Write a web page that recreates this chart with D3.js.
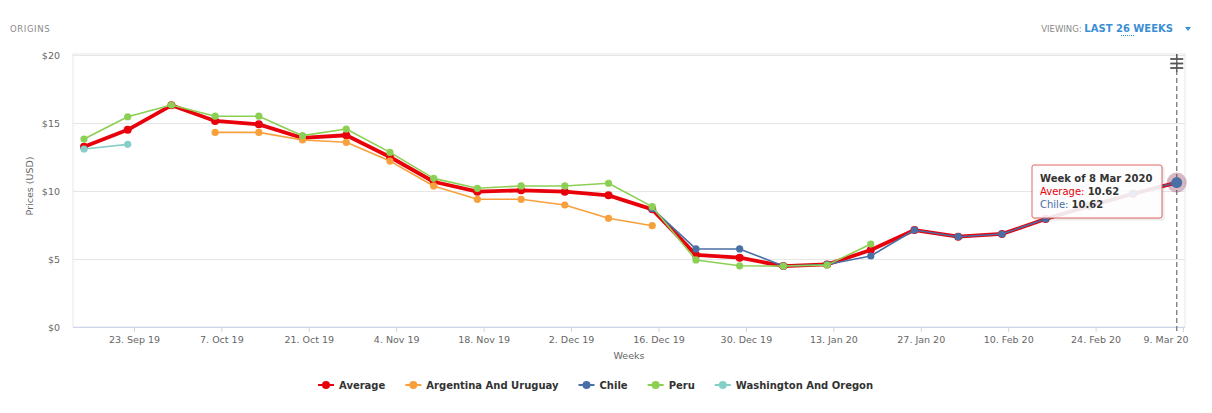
<!DOCTYPE html>
<html>
<head>
<meta charset="utf-8">
<script src="https://cdn.jsdelivr.net/npm/d3@7"></script>
<style>
  body { margin: 0; background: #fff; }
  svg { font-family: "DejaVu Sans", sans-serif; }
</style>
</head>
<body>
<svg id="pricesChart" width="1212" height="413"></svg>
<script>
// weekly prices, one value per week (null = no data that week)
var weeks = ["2019-09-15", "2019-09-22", "2019-09-29", "2019-10-06", "2019-10-13", "2019-10-20",
  "2019-10-27", "2019-11-03", "2019-11-10", "2019-11-17", "2019-11-24", "2019-12-01", "2019-12-08",
  "2019-12-15", "2019-12-22", "2019-12-29", "2020-01-05", "2020-01-12", "2020-01-19", "2020-01-26",
  "2020-02-02", "2020-02-09", "2020-02-16", "2020-02-23", "2020-03-01", "2020-03-08"];

var average = [13.25, 14.5, 16.3, 15.15, 14.9, 13.9, 14.1, 12.5, 10.68, 9.95, 10.05, 9.95, 9.68,
  8.65, 5.3, 5.1, 4.48, 4.6, 5.66, 7.13, 6.64, 6.84, 7.94, 8.9, 9.8, 10.62];
var argentinaAndUruguay = [null, null, null, 14.31, 14.31, 13.75, 13.58, 12.2, 10.37, 9.39, 9.39,
  8.97, 7.99, 7.45, null, null, null, null, null, null, null, null, null, null, null, null];
var chile = [null, null, null, null, null, null, null, null, null, null, null, null, null,
  8.7, 5.74, 5.74, 4.48, 4.6, 5.22, 7.13, 6.64, 6.84, 7.94, 8.9, 9.8, 10.62];
var peru = [13.82, 15.46, 16.32, 15.5, 15.5, 14.07, 14.56, 12.84, 10.93, 10.2, 10.37, 10.37, 10.57,
  8.85, 4.93, 4.5, 4.48, 4.55, 6.1, null, null, null, null, null, null, null];
var washingtonAndOregon = [13.09, 13.43, null, null, null, null, null, null, null, null, null, null,
  null, null, null, null, null, null, null, null, null, null, null, null, null, null];

var seriesNames = ["Average", "Argentina And Uruguay", "Chile", "Peru", "Washington And Oregon"];
var seriesColors = ["#e8000b", "#f7a03c", "#4a6fa5", "#8ccf55", "#86cfc8"];

var yTicks = [0, 5, 10, 15, 20];
var xTicks = ["2019-09-23", "2019-10-07", "2019-10-21", "2019-11-04", "2019-11-18", "2019-12-02",
  "2019-12-16", "2019-12-30", "2020-01-13", "2020-01-27", "2020-02-10", "2020-02-24", "2020-03-09"];
var hoverIndex = 25;

var parseDate = d3.utcParse("%Y-%m-%d");
var dates = weeks.map(parseDate);

var svg = d3.select("#pricesChart"),
  plot = { left: 73, top: 54, right: 1185, bottom: 327 };

var x = d3.scaleUtc()
  .domain([parseDate("2019-09-15"), parseDate("2020-03-09")])
  .range([84, 1183]);
var y = d3.scaleLinear().domain([0, 20]).range([plot.bottom, 55]);

// header
svg.append("text")
  .attr("x", 10).attr("y", 32)
  .attr("font-size", 8.5).attr("fill", "#8a8a8a").attr("letter-spacing", 0.6)
  .text("ORIGINS");

var viewing = svg.append("text")
  .attr("x", 1173).attr("y", 32).attr("text-anchor", "end")
  .attr("font-size", 8.5);
viewing.append("tspan").attr("fill", "#8a8a8a").text("VIEWING: ");
viewing.append("tspan").attr("fill", "#3a8fd4").attr("font-weight", "bold").attr("font-size", 10)
  .text("LAST 26 WEEKS");
svg.append("line")
  .attr("x1", 1121).attr("x2", 1134).attr("y1", 35.5).attr("y2", 35.5)
  .attr("stroke", "#3a8fd4").attr("stroke-dasharray", "1,1");
svg.append("path")
  .attr("d", "M1185,27 L1191,27 L1188,31 Z")
  .attr("fill", "#3a8fd4");

// plot frame + grid
svg.append("rect")
  .attr("x", plot.left).attr("y", plot.top)
  .attr("width", plot.right - plot.left).attr("height", plot.bottom - plot.top)
  .attr("fill", "none").attr("stroke", "#e8e8e8");

var yAxis = svg.append("g")
  .attr("transform", "translate(" + plot.left + ",0)")
  .call(d3.axisLeft(y)
    .tickValues(yTicks)
    .tickFormat(function(d) { return "$" + d; })
    .tickSizeInner(-(plot.right - plot.left))
    .tickSizeOuter(0)
    .tickPadding(13));
yAxis.select(".domain").remove();
yAxis.selectAll(".tick line").attr("stroke", "#e6e6e6");
yAxis.selectAll(".tick text").attr("fill", "#666").attr("font-size", 9.5)
  .attr("font-family", "DejaVu Sans, sans-serif");

svg.append("text")
  .attr("transform", "translate(33,186) rotate(-90)")
  .attr("text-anchor", "middle").attr("font-size", 9.5).attr("fill", "#666")
  .text("Prices (USD)");

var xAxis = svg.append("g")
  .attr("transform", "translate(0," + plot.bottom + ")")
  .call(d3.axisBottom(x)
    .tickValues(xTicks.map(parseDate))
    .tickFormat(d3.utcFormat("%-d. %b %y"))
    .tickSize(5)
    .tickPadding(4));
xAxis.select(".domain").attr("stroke", "#ccd6eb").attr("d", "M" + plot.left + ",0.5H" + plot.right);
xAxis.selectAll(".tick line").attr("stroke", "#ccd6eb");
xAxis.selectAll(".tick text").attr("fill", "#666").attr("font-size", 9.5)
  .attr("font-family", "DejaVu Sans, sans-serif");
// last label is pushed inside the chart like highcharts does
xAxis.select(".tick:last-of-type text").attr("text-anchor", "end").attr("x", 5);

svg.append("text")
  .attr("x", (plot.left + plot.right) / 2).attr("y", 359)
  .attr("text-anchor", "middle").attr("font-size", 9.5).attr("fill", "#666")
  .text("Weeks");

// crosshair on hovered week
svg.append("line")
  .attr("x1", x(dates[hoverIndex])).attr("x2", x(dates[hoverIndex]))
  .attr("y1", plot.top).attr("y2", plot.bottom + 4)
  .attr("stroke", "#777").attr("stroke-width", 1.3).attr("stroke-dasharray", "5,3");
var handle = svg.append("g").attr("transform", "translate(" + x(dates[hoverIndex]) + ",0)");
[59, 63.5, 68].forEach(function(hy) {
  handle.append("line").attr("x1", -6.5).attr("x2", 6.5).attr("y1", hy).attr("y2", hy)
    .attr("stroke", "#555").attr("stroke-width", 1.8);
});
handle.append("line").attr("x1", 0).attr("x2", 0).attr("y1", 54).attr("y2", 72)
  .attr("stroke", "#555").attr("stroke-width", 1.2);

// series
var seriesValues = [average, argentinaAndUruguay, chile, peru, washingtonAndOregon];
var series = seriesNames.map(function(name, k) {
  return {
    name: name,
    color: seriesColors[k],
    values: seriesValues[k],
    width: k === 0 ? 3.8 : 1.6,
    r: k === 0 ? 4 : 3.6
  };
});

var line = d3.line()
  .defined(function(d) { return d != null; })
  .x(function(d, i) { return x(dates[i]); })
  .y(function(d) { return y(d); });

var g = svg.append("g");
series.forEach(function(s) {
  g.append("path")
    .datum(s.values)
    .attr("fill", "none")
    .attr("stroke", s.color)
    .attr("stroke-width", s.width)
    .attr("stroke-linejoin", "round")
    .attr("stroke-linecap", "round")
    .attr("d", line);

  g.selectAll(null)
    .data(s.values.map(function(v, i) { return { v: v, i: i }; })
      .filter(function(d) { return d.v != null && d.i !== hoverIndex; }))
    .enter()
    .append("circle")
    .attr("cx", function(d) { return x(dates[d.i]); })
    .attr("cy", function(d) { return y(d.v); })
    .attr("r", s.r)
    .attr("fill", s.color);
});

// hover halo + markers
[average, chile].forEach(function(vals, k) {
  var col = k === 0 ? seriesColors[0] : seriesColors[2];
  g.append("circle")
    .attr("cx", x(dates[hoverIndex])).attr("cy", y(vals[hoverIndex]))
    .attr("r", 10).attr("fill", col).attr("fill-opacity", 0.2);
});
g.append("circle")
  .attr("cx", x(dates[hoverIndex])).attr("cy", y(chile[hoverIndex]))
  .attr("r", 5.5).attr("fill", seriesColors[2]);

// tooltip
var tip = svg.append("g").attr("transform", "translate(1032,165)");
tip.append("rect")
  .attr("x", 1.5).attr("y", 1.5).attr("width", 131).attr("height", 54).attr("rx", 2)
  .attr("fill", "#000").attr("fill-opacity", 0.08);
tip.append("rect")
  .attr("width", 130).attr("height", 53).attr("rx", 2)
  .attr("fill", "#fff").attr("fill-opacity", 0.88)
  .attr("stroke", "#e06666").attr("stroke-width", 1);
tip.append("text").attr("x", 8).attr("y", 17)
  .attr("font-size", 10).attr("font-weight", "bold").attr("fill", "#333")
  .text("Week of 8 Mar 2020");
var tipRows = [
  { name: "Average", color: seriesColors[0], value: average[hoverIndex] },
  { name: "Chile", color: seriesColors[2], value: chile[hoverIndex] }
];
tipRows.forEach(function(r, k) {
  var t = tip.append("text").attr("x", 8).attr("y", 30 + k * 12.5).attr("font-size", 10);
  t.append("tspan").attr("fill", r.color).text(r.name + ": ");
  t.append("tspan").attr("fill", "#333").attr("font-weight", "bold").text(r.value.toFixed(2));
});

// legend
var legend = svg.append("g");
var lx = 0;
series.forEach(function(s) {
  var item = legend.append("g").attr("transform", "translate(" + lx + ",0)");
  item.append("line").attr("x1", 0).attr("x2", 16).attr("y1", 0).attr("y2", 0)
    .attr("stroke", s.color).attr("stroke-width", 2);
  item.append("circle").attr("cx", 8).attr("cy", 0).attr("r", 4).attr("fill", s.color);
  var t = item.append("text").attr("x", 21).attr("y", 3.8)
    .attr("font-size", 10).attr("font-weight", "bold").attr("fill", "#333")
    .text(s.name);
  lx += 21 + t.node().getComputedTextLength() + 20;
});
lx -= 20;
legend.attr("transform", "translate(" + Math.round(596 - lx / 2) + ",385)");
</script>
</body>
</html>
